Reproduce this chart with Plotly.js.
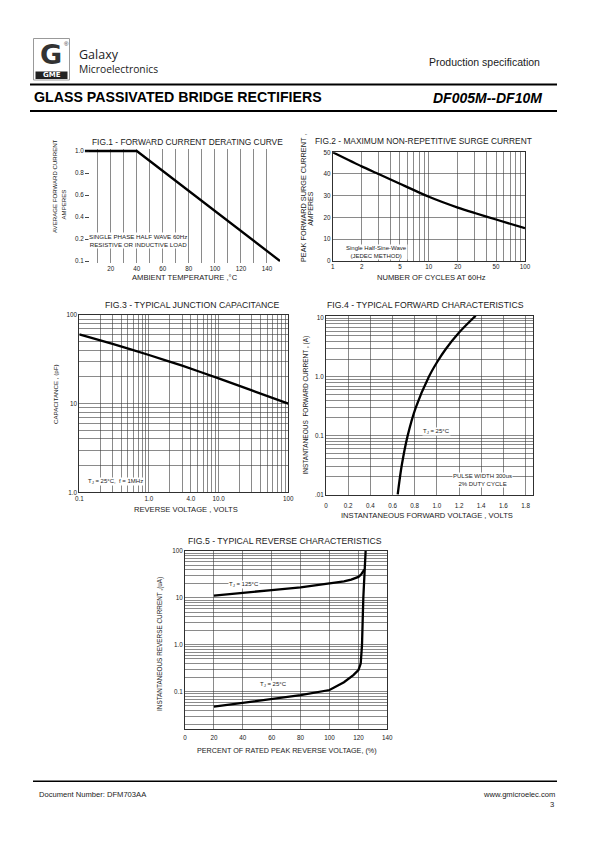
<!DOCTYPE html>
<html><head><meta charset="utf-8">
<script src="https://cdn.plot.ly/plotly-3.0.1.min.js"></script>
<style>html,body{margin:0;padding:0;background:#fff}#page{width:595px;height:842px}</style>
</head><body><div id="page"></div>
<script>
// ---------- DATA ----------
// Fig.1 forward current derating curve (y labels equally spaced; the bottom line is labelled 0.1)
const fig1Temp = [0, 40, 150];
const fig1Current = [1.0, 1.0, 0.0];
const fig1XTickVals = [20, 40, 60, 80, 100, 120, 140];
const fig1XTickText = ['20', '40', '60', '80', '100', '120', '140'];
const fig1XGridExtra = [0, 10, 30, 50, 70, 90, 110, 130];
const fig1YTickVals = [0, 0.2, 0.4, 0.6, 0.8, 1.0];
const fig1YTickText = ['0.1', '0.2', '0.4', '0.6', '0.8', '1.0'];

// Fig.2 maximum non-repetitive surge current
const fig2Cycles = [1, 2, 3, 5, 10, 20, 30, 50, 100];
const fig2Surge = [50, 43.5, 40, 35.5, 29.5, 24.5, 22, 19, 15];
const fig2XTickVals = [1, 2, 5, 10, 20, 50, 100];
const fig2XTickText = ['1', '2', '5', '10', '20', '50', '100'];
const fig2YTickVals = [0, 10, 20, 30, 40, 50];
const fig2YTickText = ['0', '10', '20', '30', '40', '50'];

// Fig.3 typical junction capacitance
const fig3Voltage = [0.1, 0.3, 1, 3, 10, 30, 100];
const fig3Capacitance = [60.5, 47.3, 35.4, 26.8, 19.3, 14.1, 10];
const fig3XTickVals = [0.1, 1, 4, 10, 100];
const fig3XTickText = ['0.1', '1.0', '4.0', '10.0', '100'];
const fig3YTickVals = [1, 10, 100];
const fig3YTickText = ['1.0', '10', '100'];

// Fig.4 typical forward characteristics
const fig4Voltage = [0.647, 0.682, 0.737, 0.810, 0.927, 1.003, 1.081, 1.197, 1.327, 1.351];
const fig4Current = [0.01, 0.03, 0.1, 0.3, 1, 1.8, 3, 5.6, 10, 11];
const fig4XTickVals = [0, 0.2, 0.4, 0.6, 0.8, 1.0, 1.2, 1.4, 1.6, 1.8];
const fig4XTickText = ['0', '0.2', '0.4', '0.6', '0.8', '1.0', '1.2', '1.4', '1.6', '1.8'];
const fig4YTickVals = [0.01, 0.1, 1, 10];
const fig4YTickText = ['.01', '0.1', '1.0', '10'];

// Fig.5 typical reverse characteristics
const fig5Pct125 = [20, 40, 60, 80, 100, 110, 115, 120, 122, 123.5, 124.1];
const fig5Current125 = [11.2, 13, 14.7, 16.8, 20.4, 22.5, 24.5, 28, 32, 37, 40];
const fig5Pct25 = [20, 40, 60, 80, 100, 110, 116.5, 120, 121.6, 122.2, 122.5, 123.4, 124.1, 125];
const fig5Current25 = [0.048, 0.058, 0.069, 0.085, 0.109, 0.16, 0.227, 0.29, 0.40, 0.6, 1.0, 10, 40, 100];
const fig5XTickVals = [0, 20, 40, 60, 80, 100, 120, 140];
const fig5XTickText = ['0', '20', '40', '60', '80', '100', '120', '140'];
const fig5YTickVals = [0.0158, 0.1, 1, 10, 100];
const fig5YTickText = ['0.01', '0.1', '1.0', '10', '100'];

// ---------- HELPERS ----------
const W = 595, H = 842;
const px = x => x / W;
const py = y => 1 - y / H;
const FONT = 'Liberation Sans, Arial, sans-serif';
const GRID = '#3c3c3c';
const INK = '#1a1a1a';

function logGrid(lo, hi) {
  const v = [];
  for (let e = lo; e < hi; e++) for (let m = 1; m < 10; m++) v.push(m * Math.pow(10, e));
  v.push(Math.pow(10, hi));
  return v;
}
function minorGrid(vals) {
  return {tickmode: 'array', tickvals: vals, showgrid: true, gridcolor: GRID, gridwidth: 0.6, ticks: ''};
}
const tickFont = {family: FONT, size: 6.3, color: INK};
function xax(d0, d1, anchor, extra) {
  return Object.assign({domain: [px(d0), px(d1)], anchor: anchor, zeroline: false, ticks: '',
    showgrid: true, gridcolor: GRID, gridwidth: 0.6, tickfont: tickFont, fixedrange: true,
    tickmode: 'array', linecolor: INK, linewidth: 0.9}, extra);
}
function yax(top, bottom, anchor, extra) {
  return Object.assign({domain: [py(bottom), py(top)], anchor: anchor, zeroline: false, ticks: '',
    showgrid: true, gridcolor: GRID, gridwidth: 0.6, tickfont: tickFont, fixedrange: true,
    tickmode: 'array', linecolor: INK, linewidth: 0.9}, extra);
}
function A(text, x, y, size, opts) {
  return Object.assign({text: text, x: px(x), y: py(y), xref: 'paper', yref: 'paper',
    showarrow: false, xanchor: 'center', yanchor: 'middle',
    font: {family: FONT, size: size, color: INK}}, opts || {});
}
function line(x0, y0, x1, y1, w, c) {
  return {type: 'line', xref: 'paper', yref: 'paper', x0: px(x0), y0: py(y0), x1: px(x1), y1: py(y1),
    line: {color: c || '#000', width: w}};
}

// ---------- TRACES ----------
const curve = {color: '#000', width: 2.3};
const smooth = s => Object.assign({shape: 'spline', smoothing: s}, curve);
const traces = [
  {x: fig1Temp, y: fig1Current, xaxis: 'x', yaxis: 'y', mode: 'lines', line: curve, hoverinfo: 'skip'},
  {x: fig2Cycles, y: fig2Surge, xaxis: 'x2', yaxis: 'y2', mode: 'lines', line: smooth(0.6), hoverinfo: 'skip'},
  {x: fig3Voltage, y: fig3Capacitance, xaxis: 'x3', yaxis: 'y3', mode: 'lines', line: smooth(0.6), hoverinfo: 'skip'},
  {x: fig4Voltage, y: fig4Current, xaxis: 'x4', yaxis: 'y4', mode: 'lines', line: smooth(0.8), hoverinfo: 'skip'},
  {x: fig5Pct125, y: fig5Current125, xaxis: 'x5', yaxis: 'y5', mode: 'lines', line: curve, hoverinfo: 'skip'},
  {x: fig5Pct25, y: fig5Current25, xaxis: 'x5', yaxis: 'y5', mode: 'lines', line: curve, hoverinfo: 'skip'}
];

// ---------- AXES ----------
const notIn = labels => v => !labels.some(l => Math.abs(l - v) / Math.max(l, 1e-9) < 1e-6);
const fig2XMinor = logGrid(0, 2).filter(notIn(fig2XTickVals));
const fig3XMinor = logGrid(-1, 2).filter(notIn(fig3XTickVals));
const fig3YMinor = logGrid(0, 2).filter(notIn(fig3YTickVals));
const fig4YMinor = logGrid(-2, 1).filter(notIn(fig4YTickVals));
const fig5YMinor = logGrid(-2, 2).filter(v => v > 0.0158).filter(notIn(fig5YTickVals));

const layout = {
  width: W, height: H, margin: {l: 0, r: 0, t: 0, b: 0},
  paper_bgcolor: '#fff', plot_bgcolor: 'rgba(0,0,0,0)', showlegend: false,
  font: {family: FONT, color: INK},
  // Fig.1
  xaxis: xax(84.7, 280, 'y', {range: [0, 150], tickvals: fig1XTickVals, ticktext: fig1XTickText,
    showline: false, minor: minorGrid(fig1XGridExtra)}),
  yaxis: yax(148.8, 263.2, 'x', {range: [-0.02, 1.02], tickvals: fig1YTickVals, ticktext: fig1YTickText,
    showgrid: false, showline: false, ticks: 'inside', ticklen: 4, tickcolor: INK, tickwidth: 0.8}),
  // Fig.2
  xaxis2: xax(332.7, 525, 'y2', {type: 'log', range: [0, 2], tickvals: fig2XTickVals, ticktext: fig2XTickText,
    showline: true, mirror: true, minor: minorGrid(fig2XMinor)}),
  yaxis2: yax(152.3, 260.7, 'x2', {range: [0, 50], tickvals: fig2YTickVals, ticktext: fig2YTickText,
    showline: true, mirror: true}),
  // Fig.3
  xaxis3: xax(79.3, 288.3, 'y3', {type: 'log', range: [-1, 2], tickvals: fig3XTickVals, ticktext: fig3XTickText,
    showline: true, mirror: true, minor: minorGrid(fig3XMinor)}),
  yaxis3: yax(315, 492.3, 'x3', {type: 'log', range: [0, 2], tickvals: fig3YTickVals, ticktext: fig3YTickText,
    showline: true, mirror: true, minor: minorGrid(fig3YMinor)}),
  // Fig.4
  xaxis4: xax(326, 532.7, 'y4', {range: [0, 1.865], tickvals: fig4XTickVals, ticktext: fig4XTickText,
    showline: true, mirror: true, ticklabelstandoff: 4}),
  yaxis4: yax(315.7, 495.3, 'x4', {type: 'log', range: [-2.017, 1.044], tickvals: fig4YTickVals, ticktext: fig4YTickText,
    showline: true, mirror: true, minor: minorGrid(fig4YMinor)}),
  // Fig.5
  xaxis5: xax(185, 387.3, 'y5', {range: [0, 140], tickvals: fig5XTickVals, ticktext: fig5XTickText,
    showline: true, mirror: true, ticklabelstandoff: 2}),
  yaxis5: yax(551, 729.3, 'x5', {type: 'log', range: [-1.8, 2], tickvals: fig5YTickVals, ticktext: fig5YTickText,
    showline: true, mirror: true, minor: minorGrid(fig5YMinor)}),
  shapes: [
    line(30, 84.5, 557, 84.5, 2.2),
    line(30, 111, 557, 111, 2),
    line(33, 781.3, 557, 781.3, 1.6),
    // logo
    {type: 'rect', xref: 'paper', yref: 'paper', x0: px(33.5), y0: py(80), x1: px(69.5), y1: py(38.5),
      line: {color: '#999', width: 1}, fillcolor: '#fff'},
    {type: 'rect', xref: 'paper', yref: 'paper', x0: px(35.5), y0: py(79), x1: px(67.5), y1: py(71.5),
      line: {width: 0}, fillcolor: '#222'}
  ],
  annotations: [
    // header
    A('G', 50.5, 54.5, 27, {font: {family: 'DejaVu Sans, sans-serif', size: 27, color: '#333', weight: 'bold'}}),
    A('GME', 51.5, 75.4, 7, {font: {family: 'DejaVu Sans, sans-serif', size: 7, color: '#fff', weight: 'bold'}}),
    A('®', 66, 43.5, 6, {font: {family: FONT, size: 6, color: '#333'}}),
    A('Galaxy', 77, 55, 12.5, {xanchor: 'left', font: {family: 'Open Sans, sans-serif', size: 12.5, color: '#222'}}),
    A('Microelectronics', 77, 68.5, 10.3, {xanchor: 'left', font: {family: 'Open Sans, sans-serif', size: 10.3, color: '#222'}}),
    A('Production specification', 542, 61.7, 10.5, {xanchor: 'right'}),
    A('<b>GLASS PASSIVATED BRIDGE RECTIFIERS</b>', 32, 97, 14.2, {xanchor: 'left', font: {family: FONT, size: 14.2, color: '#000'}}),
    A('<b><i>DF005M--DF10M</i></b>', 544, 97.5, 14, {xanchor: 'right', font: {family: FONT, size: 14, color: '#000'}}),
    // footer
    A('Document Number: DFM703AA', 37, 794.7, 7.6, {xanchor: 'left'}),
    A('www.gmicroelec.com', 557, 794.7, 7.6, {xanchor: 'right'}),
    A('3', 556, 804.5, 7.6, {xanchor: 'right'}),
    // Fig.1
    A('FIG.1 - FORWARD CURRENT DERATING CURVE', 187.7, 141.7, 8.4),
    A('AVERAGE FORWARD CURRENT', 55, 186, 6.1, {textangle: -90}),
    A('AMPERES', 62.5, 205, 6.1, {textangle: -90}),
    A('AMBIENT TEMPERATURE ,°C', 185, 277.5, 7.6),
    A('SINGLE PHASE HALF WAVE 60Hz<br>RESISTIVE OR INDUCTIVE LOAD', 138, 241, 6.2, {bgcolor: '#fff', borderpad: 0}),
    // Fig.2
    A('FIG.2 - MAXIMUM NON-REPETITIVE SURGE CURRENT', 423.3, 141, 8.4),
    A('PEAK FORWARD SURGE CURRENT ,', 303, 198, 7.3, {textangle: -90}),
    A('AMPERES', 310.8, 208, 7, {textangle: -90}),
    A('NUMBER OF CYCLES AT 60Hz', 431.7, 277.5, 7.6),
    A('Single Half-Sine-Wave<br>(JEDEC METHOD)', 376.7, 251.7, 6, {bgcolor: '#fff', borderpad: 0}),
    // Fig.3
    A('FIG.3 - TYPICAL JUNCTION CAPACITANCE', 192.5, 305, 8.7),
    A('CAPACITANCE , (pF)', 55, 394, 6.2, {textangle: -90}),
    A('REVERSE VOLTAGE , VOLTS', 186, 509, 7.6),
    A('T<sub>J</sub> = 25°C,  f = 1MHz', 115, 481.7, 6, {bgcolor: '#fff', borderpad: 0}),
    // Fig.4
    A('FIG.4 - TYPICAL FORWARD CHARACTERISTICS', 425.8, 305, 8.7),
    A('INSTANTANEOUS  FORWARD CURRENT , (A)', 305, 405.5, 6.5, {textangle: -90}),
    A('INSTANTANEOUS FORWARD VOLTAGE , VOLTS', 426.7, 515.5, 7.6),
    A('T<sub>J</sub> = 25°C', 436.7, 431, 6, {bgcolor: '#fff', borderpad: 0}),
    A('PULSE WIDTH 300us<br>2% DUTY CYCLE', 482.7, 480, 6, {bgcolor: '#fff', borderpad: 0}),
    // Fig.5
    A('FIG.5 - TYPICAL REVERSE CHARACTERISTICS', 284.7, 541, 8.7),
    A('INSTANTANEOUS REVERSE CURRENT ,(uA)', 160, 644, 6.4, {textangle: -90}),
    A('PERCENT OF RATED PEAK REVERSE VOLTAGE, (%)', 286.7, 750.7, 7.2),
    A('T<sub>J</sub> = 125°C', 244, 584.3, 6, {bgcolor: '#fff', borderpad: 0}),
    A('T<sub>J</sub> = 25°C', 273.3, 684, 6, {bgcolor: '#fff', borderpad: 0})
  ]
};

Plotly.newPlot('page', traces, layout, {staticPlot: true, displayModeBar: false});
</script>
</body></html>
